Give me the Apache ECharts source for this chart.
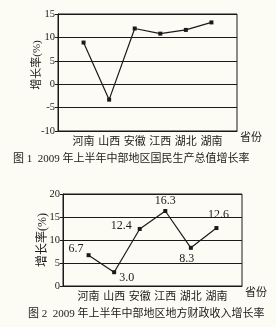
<!DOCTYPE html>
<html><head><meta charset="utf-8">
<script src="https://cdn.jsdelivr.net/npm/echarts@6/dist/echarts.min.js"></script>
<style>html,body{margin:0;padding:0;background:#fcfcf5}#c{width:276px;height:327px}</style>
</head><body><div id="c"></div>
<script>
const provinces = ['河南','山西','安徽','江西','湖北','湖南'];
const gdpGrowth = [8.9, -3.3, 11.9, 10.8, 11.6, 13.2];
const revenueGrowth = [6.7, 3.0, 12.4, 16.3, 8.3, 12.6];
const revenueLabels = ['6.7','3.0','12.4','16.3','8.3','12.6'];
const title1 = '图 1  2009 年上半年中部地区国民生产总值增长率';
const title2 = '图 2  2009 年上半年中部地区地方财政收入增长率';
const yName = '增长率(%)';
const xName = '省份';

const FONT = '"Liberation Serif","Noto Sans CJK SC",serif';
const ink = '#1a1a1a';
const cats = [''].concat(provinces, ['']);
const pad = arr => [null].concat(arr, [null]);

const labelPos = [
  {position:'left', offset:[2,-6]},
  {position:'right', offset:[-2,6]},
  {position:'left', offset:[-1,-3]},
  {position:'top', offset:[0,3]},
  {position:'bottom', offset:[-4,-2]},
  {position:'top', offset:[2,0]}
];
const rev = [null].concat(revenueGrowth.map((v,i)=>({
  value:v,
  label:{show:true, formatter:revenueLabels[i], position:labelPos[i].position, offset:labelPos[i].offset,
         color:ink, fontFamily:FONT, fontSize:12}
})), [null]);

function xAxis(idx){
  return {gridIndex:idx, type:'category', data:cats, boundaryGap:false,
    axisLine:{onZero:false, lineStyle:{color:ink,width:1}}, axisTick:{show:false},
    axisLabel:{color:ink, fontFamily:FONT, fontSize:11, margin:6, interval:0},
    splitLine:{show:false},
    name:xName, nameLocation:'end', nameGap:3,
    nameTextStyle:{color:ink, fontFamily:FONT, fontSize:11, verticalAlign:'top', padding:[2,0,0,0]}};
}
function yAxis(idx,min,max){
  return {gridIndex:idx, type:'value', min:min, max:max, interval:5,
    axisLine:{show:true, lineStyle:{color:ink,width:1}},
    axisTick:{show:true, length:3, lineStyle:{color:ink}},
    axisLabel:{color:ink, fontFamily:FONT, fontSize:10.5, margin:3},
    splitLine:{show:true, lineStyle:{color:ink,width:1}}};
}
function yTitle(x,y,size){
  return {type:'text', x:x, y:y, rotation:Math.PI/2,
    style:{text:yName, fill:ink, font:size+'px '+FONT, align:'center', verticalAlign:'middle'}};
}
const chart = echarts.init(document.getElementById('c'), null, {renderer:'canvas'});
chart.setOption({
  backgroundColor:'#fcfcf5',
  animation:false,
  title:[
    {text:title1, left:8, top:149, textStyle:{color:ink, fontFamily:FONT, fontSize:11, fontWeight:'normal'}},
    {text:title2, left:23, top:304, textStyle:{color:ink, fontFamily:FONT, fontSize:11, fontWeight:'normal'}}
  ],
  graphic:[yTitle(37,65,11), yTitle(43,240,12)],
  grid:[
    {left:58, right:39, top:14, height:117, show:true, borderColor:ink, borderWidth:1, backgroundColor:'transparent'},
    {left:63, right:34, top:194, height:92, show:true, borderColor:ink, borderWidth:1, backgroundColor:'transparent'}
  ],
  xAxis:[xAxis(0), xAxis(1)],
  yAxis:[yAxis(0,-10,15), yAxis(1,0,20)],
  series:[
    {type:'line', xAxisIndex:0, yAxisIndex:0, data:pad(gdpGrowth), symbol:'rect', symbolSize:4,
     lineStyle:{color:ink,width:1.2}, itemStyle:{color:ink}},
    {type:'line', xAxisIndex:1, yAxisIndex:1, data:rev, symbol:'rect', symbolSize:4,
     lineStyle:{color:ink,width:1.2}, itemStyle:{color:ink}}
  ]
});
</script></body></html>
